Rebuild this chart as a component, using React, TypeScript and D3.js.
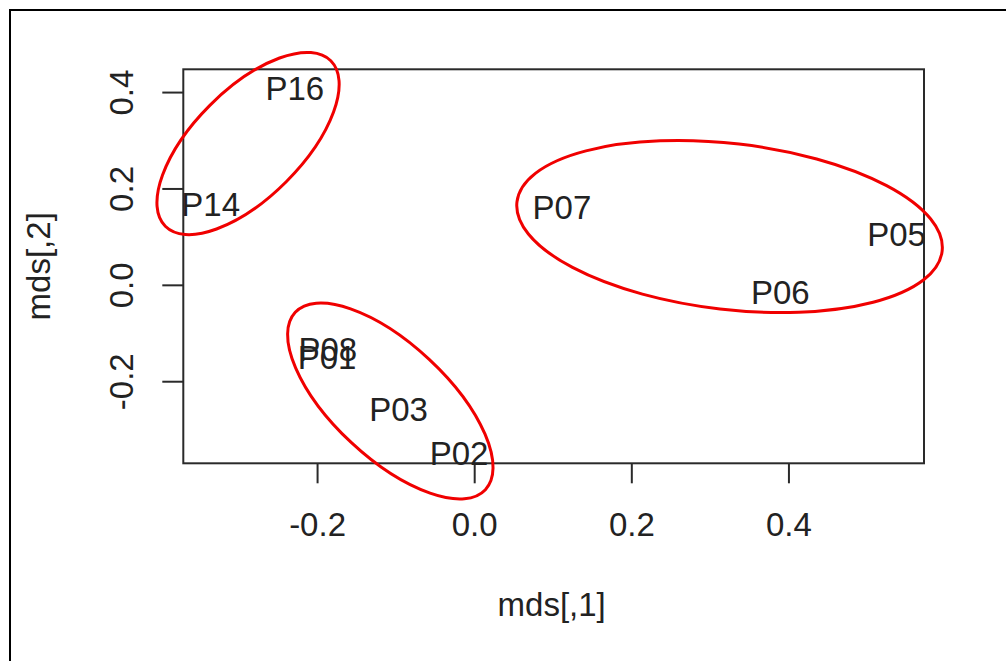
import React from "react";
import * as d3 from "d3";

const labels = ["P16", "P14", "P07", "P05", "P06", "P08", "P01", "P03", "P02"];
const xValues = [-0.229, -0.336, 0.111, 0.537, 0.389, -0.187, -0.188, -0.097, -0.02];
const yValues = [0.418, 0.177, 0.172, 0.115, -0.005, -0.123, -0.14, -0.247, -0.339];
const xTicks = [-0.2, 0.0, 0.2, 0.4];
const yTicks = [-0.2, 0.0, 0.2, 0.4];
const xTitle = "mds[,1]";
const yTitle = "mds[,2]";
// cluster annotation ellipses: centre in data units
const ellipseCx = [-0.2885, 0.3244, -0.1074];
const ellipseCy = [0.2943, 0.122, -0.24];

const W = 1006;
const H = 661;
const plot = { left: 183.3, right: 924, top: 69.3, bottom: 463.3 };
const ellipseGeom = [
  { rx: 117, ry: 54, angle: -45 },
  { rx: 214, ry: 83, angle: 6.6 },
  { rx: 130, ry: 57, angle: 43 },
];

function padded(vals: number[]): [number, number] {
  const [mn, mx] = d3.extent(vals) as [number, number];
  const p = (mx - mn) * 0.04;
  return [mn - p, mx + p];
}

const fmt = (t: number) => (Math.abs(t) < 1e-9 ? 0 : t).toFixed(1);

export default function App() {
  const x = d3.scaleLinear().domain(padded(xValues)).range([plot.left, plot.right]);
  const y = d3.scaleLinear().domain(padded(yValues)).range([plot.bottom, plot.top]);
  const font = "'Liberation Sans', Arial, sans-serif";
  const fs = 33;
  const ink = "#222";

  return (
    <div style={{ position: "absolute", left: 0, top: 0 }}>
      <svg width={W} height={H} style={{ display: "block", background: "#fff" }}>
        <rect x={0} y={0} width={W} height={H} fill="#fff" />
        {/* outer frame (left & top) */}
        <line x1={9} y1={10} x2={W} y2={10} stroke="#000" strokeWidth={2} />
        <line x1={10} y1={9} x2={10} y2={H} stroke="#000" strokeWidth={2} />

        {/* plot box */}
        <rect
          x={plot.left}
          y={plot.top}
          width={plot.right - plot.left}
          height={plot.bottom - plot.top}
          fill="none"
          stroke="#2a2a2a"
          strokeWidth={2}
        />

        {/* x axis */}
        {xTicks.map((t) => (
          <g key={"xt" + t}>
            <line x1={x(t)} x2={x(t)} y1={plot.bottom} y2={plot.bottom + 20} stroke="#2a2a2a" strokeWidth={2} />
            <text x={x(t)} y={536} textAnchor="middle" fontFamily={font} fontSize={fs} fill={ink}>
              {fmt(t)}
            </text>
          </g>
        ))}

        {/* y axis */}
        {yTicks.map((t) => (
          <g key={"yt" + t}>
            <line x1={plot.left - 21} x2={plot.left} y1={y(t)} y2={y(t)} stroke="#2a2a2a" strokeWidth={2} />
            <text
              transform={`translate(133,${y(t)}) rotate(-90)`}
              textAnchor="middle"
              fontFamily={font}
              fontSize={fs}
              fill={ink}
            >
              {fmt(t)}
            </text>
          </g>
        ))}

        {/* axis titles */}
        <text x={(plot.left + plot.right) / 2 - 2} y={616} textAnchor="middle" fontFamily={font} fontSize={fs} fill={ink}>
          {xTitle}
        </text>
        <text
          transform={`translate(50,${(plot.top + plot.bottom) / 2}) rotate(-90)`}
          textAnchor="middle"
          fontFamily={font}
          fontSize={fs}
          fill={ink}
        >
          {yTitle}
        </text>

        {/* point labels */}
        {labels.map((lab, i) => (
          <text
            key={lab}
            x={x(xValues[i])}
            y={y(yValues[i]) + 16.4}
            textAnchor="middle"
            fontFamily={font}
            fontSize={fs}
            fill={ink}
          >
            {lab}
          </text>
        ))}

        {/* cluster ellipses */}
        {ellipseCx.map((cx, i) => (
          <ellipse
            key={"e" + i}
            cx={0}
            cy={0}
            rx={ellipseGeom[i].rx}
            ry={ellipseGeom[i].ry}
            transform={`translate(${x(cx)},${y(ellipseCy[i])}) rotate(${ellipseGeom[i].angle})`}
            fill="none"
            stroke="#f00000"
            strokeWidth={3}
          />
        ))}
      </svg>
    </div>
  );
}
